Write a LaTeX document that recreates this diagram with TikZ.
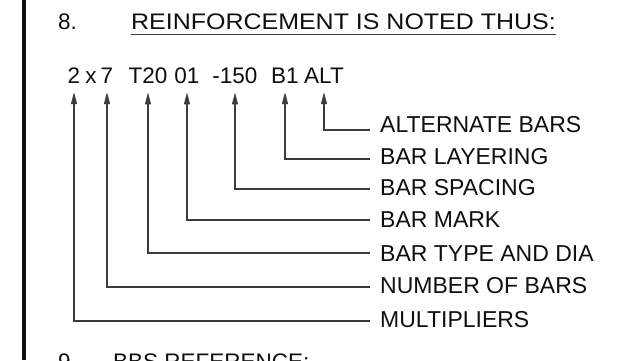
\documentclass[tikz,border=0pt]{standalone}
\usepackage{fontspec}
\setmainfont{Liberation Sans}
\usepackage{tikz}
\usetikzlibrary{arrows.meta,positioning}
\definecolor{ink}{RGB}{15,15,15}
\definecolor{leader}{RGB}{60,60,60}
\tikzset{
  code/.style={font=\fontsize{22.5}{26}\selectfont,text=ink,anchor=base,inner sep=0pt},
  note/.style={font=\fontsize{23}{26}\selectfont,text=ink,anchor=west,inner sep=0pt},
  heading/.style={font=\fontsize{22.5}{26}\selectfont,text=ink,anchor=base west,inner sep=0pt},
  pointer/.style={draw=leader,line width=1.1pt,shorten <=10pt,shorten >=9pt,
    -{Triangle[length=12pt,width=6pt]}},
  margin/.style={line width=4pt,ink}
}
\begin{document}
\begin{tikzpicture}[x=1pt,y=-1pt]
  \clip (0,0) rectangle (638,360);
  \fill[white] (0,0) rectangle (638,360);
  \draw[margin] (24,0) -- (24,360);
  % heading
  \node[heading] (num8) at (58,29) {8.};
  \node[heading] (head) at (131,29) {\scalebox{1.11}[1]{REINFORCEMENT IS NOTED THUS:}};
  \draw[leader,line width=1.3pt] ([yshift=-5pt]head.south west) -- ([yshift=-5pt]head.south east);
  % the bar code
  \node[code] (t2) at (74,83) {2};
  \node[code] (tx) at (91,83) {x};
  \node[code] (t7) at (107,83) {7};
  \node[code] (ttype) at (148,83) {T20};
  \node[code] (tmark) at (187,83) {01};
  \node[code] (tspace) at (235,83) {-150};
  \node[code] (tlayer) at (285,83) {B1};
  \node[code] (talt) at (324,83) {ALT};
  % what each part means
  \node[note] (alt) at (380,125) {ALTERNATE BARS};
  \node[note] (layer) at (380,157) {BAR LAYERING};
  \node[note] (space) at (380,188) {BAR SPACING};
  \node[note] (mark) at (380,220) {BAR MARK};
  \node[note] (type) at (380,254) {BAR TYPE AND DIA};
  \node[note] (count) at (380,286) {NUMBER OF BARS};
  \node[note] (mult) at (380,320) {MULTIPLIERS};
  \draw[pointer] ([yshift=-5pt]alt.west) -| (talt.south);
  \draw[pointer] ([yshift=-2pt]layer.west) -| (tlayer.south);
  \draw[pointer] ([yshift=-1pt]space.west) -| (tspace.south);
  \draw[pointer] (mark.west) -| (tmark.south);
  \draw[pointer] ([yshift=1pt]type.west) -| (ttype.south);
  \draw[pointer] ([yshift=-1pt]count.west) -| (t7.south);
  \draw[pointer] ([yshift=-1pt]mult.west) -| (t2.south);
  % next note, cut off
  \node[heading] (num9) at (58,369) {9.};
  \node[heading] (bbs) at (113,369) {BBS REFERENCE:};
\end{tikzpicture}
\end{document}
